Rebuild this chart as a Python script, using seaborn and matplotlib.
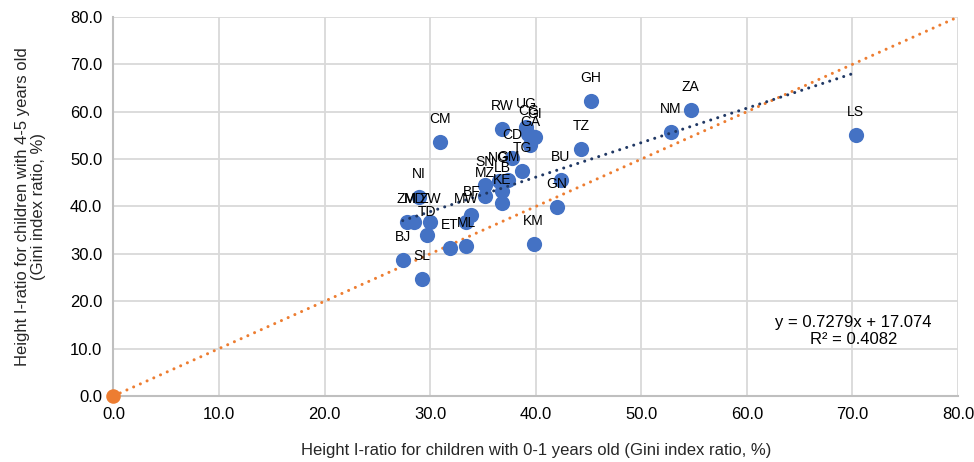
import matplotlib
matplotlib.use("Agg")
import matplotlib.pyplot as plt
import seaborn as sns
import numpy as np
import pandas as pd

# ---- data ----
codes = ["LS", "ZA", "NM", "GH", "TZ", "BU", "GN", "KM", "CM", "RW",
         "UG", "CG", "GI", "GA", "CD", "TG", "NG", "GM", "SN", "MZ",
         "LB", "KE", "BF", "MW", "ML", "ET", "ZM", "MD", "ZW", "TD",
         "NI", "BJ", "SL"]
ratio_0_1 = [70.3, 54.7, 52.8, 45.2, 44.3, 42.4, 42.0, 39.8, 30.9, 36.8,
             39.1, 39.3, 39.9, 39.5, 37.8, 38.7, 36.5, 37.4, 35.2, 35.2,
             36.8, 36.8, 33.9, 33.4, 33.4, 31.9, 27.8, 28.5, 30.0, 29.7,
             28.9, 27.4, 29.2]
ratio_4_5 = [55.1, 60.3, 55.8, 62.2, 52.1, 45.6, 39.9, 32.1, 53.6, 56.3,
             56.8, 55.3, 54.6, 53.0, 50.2, 47.5, 45.4, 45.6, 44.5, 42.2,
             43.2, 40.7, 38.2, 36.7, 31.6, 31.2, 36.7, 36.7, 36.7, 34.0,
             42.0, 28.7, 24.7]
trend_slope = 0.7279
trend_intercept = 17.074
r_squared = 0.4082
equality_line = [0.0, 80.0]
ticks = [0, 10, 20, 30, 40, 50, 60, 70, 80]

df = pd.DataFrame({"code": codes, "x": ratio_0_1, "y": ratio_4_5})

sns.set_theme(style="white")
plt.rcParams["font.family"] = ["Liberation Sans", "DejaVu Sans"]

fig = plt.figure(figsize=(9.74, 4.62), dpi=100)
ax = fig.add_axes([0.1165, 0.1429, 0.867, 0.8203])

BLUE = "#4472C4"
ORANGE = "#ED7D31"
NAVY = "#203864"

# equality line y = x
ax.plot(equality_line, equality_line, color=ORANGE, lw=2.2,
        linestyle=(0, (0.01, 2.4)), dash_capstyle="round", zorder=2)
ax.scatter([0], [0], s=110, color=ORANGE, zorder=5, clip_on=False, linewidths=0)

# scatter
sns.scatterplot(data=df, x="x", y="y", ax=ax, color=BLUE, s=120,
                linewidth=0, zorder=3, legend=False)

# linear trendline
xs = np.array([df["x"].min(), df["x"].max()])
ax.plot(xs, trend_slope * xs + trend_intercept, color=NAVY, lw=2.2,
        linestyle=(0, (0.01, 2.4)), dash_capstyle="round", zorder=4)

# data labels
for c, xv, yv in zip(codes, ratio_0_1, ratio_4_5):
    ax.annotate(c, (xv, yv), xytext=(0, 16.5), textcoords="offset points",
                ha="center", va="center", fontsize=10, color="#000000", zorder=6)

# equation
ax.text(70.1, 13.8, f"y = {trend_slope}x + {trend_intercept}\nR² = {r_squared}",
        ha="center", va="center", fontsize=12, linespacing=1.15, color="#000000")

ax.set_xlim(0, 80)
ax.set_ylim(0, 80)
ax.set_xticks(ticks)
ax.set_yticks(ticks)
ax.set_xticklabels([f"{t:.1f}" for t in ticks], fontsize=12)
ax.set_yticklabels([f"{t:.1f}" for t in ticks], fontsize=12)
ax.tick_params(axis="both", length=0, pad=8, colors="#000000")

ax.grid(True, color="#D9D9D9", lw=1.3)
ax.set_axisbelow(True)
for side in ["top", "right"]:
    ax.spines[side].set_visible(False)
for side in ["left", "bottom"]:
    ax.spines[side].set_color("#BFBFBF")
    ax.spines[side].set_linewidth(1.5)

ax.set_xlabel("Height I-ratio for children with 0-1 years old (Gini index ratio, %)",
              fontsize=12, labelpad=15)
ax.set_ylabel("Height I-ratio for children with 4-5 years old\n(Gini index ratio, %)",
              fontsize=12, labelpad=17, linespacing=1.15)

fig.savefig("out.png", dpi=100)
